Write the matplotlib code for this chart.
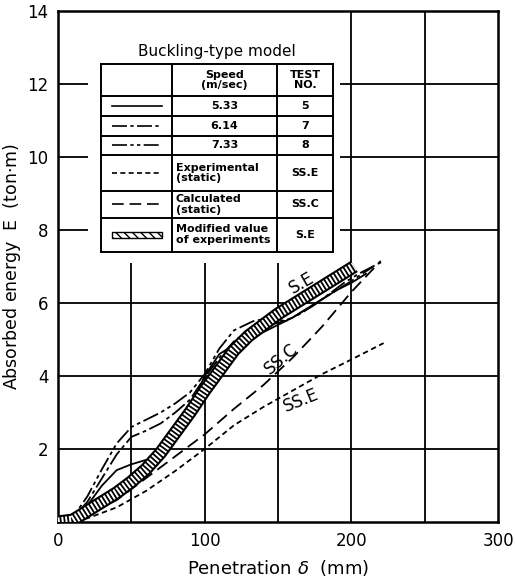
import matplotlib
matplotlib.use('Agg')
import matplotlib.pyplot as plt
from matplotlib.patches import Rectangle
import numpy as np

# penetration (mm) and absorbed energy (ton.m) per test
pen_t5 = [0, 10, 20, 30, 40, 50, 60, 70, 80, 90, 100, 110, 120, 130, 140, 150, 160, 170, 180, 190, 200, 210]
e_t5 = [0, 0.08, 0.45, 1.0, 1.42, 1.58, 1.7, 1.8, 2.3, 3.1, 4.0, 4.6, 4.85, 5.0, 5.2, 5.4, 5.6, 5.85, 6.1, 6.35, 6.55, 6.8]
pen_t7 = [0, 10, 20, 30, 40, 50, 60, 70, 80, 90, 100, 110, 120, 130, 140, 150, 160, 170, 180, 190, 200, 215]
e_t7 = [0, 0.1, 0.55, 1.2, 1.85, 2.33, 2.5, 2.7, 3.0, 3.35, 3.95, 4.5, 4.95, 5.25, 5.4, 5.45, 5.6, 5.85, 6.1, 6.35, 6.6, 7.0]
pen_t8 = [0, 10, 20, 30, 40, 50, 60, 70, 80, 90, 100, 110, 120, 133, 145, 155, 165, 175, 185, 195, 205, 222]
e_t8 = [0, 0.12, 0.7, 1.45, 2.15, 2.6, 2.8, 3.0, 3.25, 3.55, 4.05, 4.75, 5.25, 5.5, 5.6, 5.5, 5.7, 5.95, 6.25, 6.55, 6.8, 7.15]
pen_sse = [0, 20, 40, 60, 80, 100, 120, 140, 160, 180, 200, 222]
e_sse = [0, 0.1, 0.4, 0.85, 1.4, 2.0, 2.65, 3.15, 3.6, 4.05, 4.45, 4.9]
pen_ssc = [0, 20, 40, 60, 80, 100, 120, 140, 160, 180, 200, 220]
e_ssc = [0, 0.2, 0.6, 1.2, 1.8, 2.4, 3.1, 3.75, 4.5, 5.35, 6.3, 7.15]
pen_se = [0, 10, 20, 30, 40, 50, 60, 70, 80, 90, 100, 110, 120, 130, 140, 150, 160, 170, 180, 190, 202]
e_se = [0, 0.05, 0.3, 0.55, 0.8, 1.1, 1.45, 1.9, 2.45, 3.0, 3.6, 4.15, 4.7, 5.1, 5.4, 5.7, 5.95, 6.2, 6.45, 6.7, 7.0]

speeds = ['5.33', '6.14', '7.33']
test_no = ['5', '7', '8', 'SS.E', 'SS.C', 'S.E']

dash_t7 = (0, (9, 2, 2, 2))
dash_t8 = (0, (9, 2, 2, 2, 2, 2))
dash_sse = (0, (3, 2))
dash_ssc = (0, (7, 3.5))

fig = plt.figure(figsize=(5.15, 5.78), dpi=100)
ax = fig.add_axes([0.1126, 0.0969, 0.8544, 0.8842])
ax.set_xlim(0, 300)
ax.set_ylim(0, 14)

# grid
for gx in [50, 100, 150, 200, 250]:
    ax.axvline(gx, color='black', lw=1.3, zorder=1)
for gy in [2, 4, 6, 8, 10, 12]:
    ax.axhline(gy, color='black', lw=1.3, zorder=1)

# curves
ax.plot(pen_t5, e_t5, color='black', lw=1.3, zorder=3)
ax.plot(pen_t7, e_t7, color='black', lw=1.3, ls=dash_t7, zorder=3)
ax.plot(pen_t8, e_t8, color='black', lw=1.3, ls=dash_t8, zorder=3)
ax.plot(pen_sse, e_sse, color='black', lw=1.3, ls=dash_sse, zorder=3)
ax.plot(pen_ssc, e_ssc, color='black', lw=1.3, ls=dash_ssc, zorder=3)
# hatched band
ax.plot(pen_se, e_se, color='black', lw=9.5, solid_capstyle='butt', zorder=4)
ax.plot(pen_se, e_se, color='white', lw=6.5, ls=(0, (0.22, 0.2)), dash_capstyle='butt', zorder=5)

ax.text(166, 6.55, 'S.E', fontsize=12, rotation=30, ha='center', va='center', zorder=6)
ax.text(152, 4.47, 'SS.C', fontsize=12, rotation=40, ha='center', va='center', zorder=6)
ax.text(166, 3.34, 'SS.E', fontsize=12, rotation=22, ha='center', va='center', zorder=6)

# legend table
ax.add_patch(Rectangle((20.5, 7.1), 172, 6.9, facecolor='white', edgecolor='none', zorder=2))
tx0, tx1, tx2, tx3 = 29.3, 77.7, 149.3, 187.5
rows = [12.55, 11.67, 11.12, 10.58, 10.05, 9.07, 8.33, 7.40]
for ry in rows:
    ax.plot([tx0, tx3], [ry, ry], color='black', lw=1.4, zorder=7)
for cx in [tx0, tx1, tx2, tx3]:
    ax.plot([cx, cx], [rows[0], rows[-1]], color='black', lw=1.4, zorder=7)

ax.text((tx0 + tx3) / 2, 12.9, 'Buckling-type model', fontsize=11, ha='center', va='center', zorder=7)
tkw = dict(fontsize=8, fontweight='bold', va='center', zorder=7)
ax.text((tx1 + tx2) / 2, (rows[0] + rows[1]) / 2, 'Speed\n(m/sec)', ha='center', linespacing=1.1, **tkw)
ax.text((tx2 + tx3) / 2, (rows[0] + rows[1]) / 2, 'TEST\nNO.', ha='center', linespacing=1.1, **tkw)
for i, sp in enumerate(speeds):
    ax.text((tx1 + tx2) / 2, (rows[i + 1] + rows[i + 2]) / 2, sp, ha='center', **tkw)
ax.text(tx1 + 2.5, (rows[4] + rows[5]) / 2, 'Experimental\n(static)', ha='left', linespacing=1.1, **tkw)
ax.text(tx1 + 2.5, (rows[5] + rows[6]) / 2, 'Calculated\n(static)', ha='left', linespacing=1.1, **tkw)
ax.text(tx1 + 2.5, (rows[6] + rows[7]) / 2, 'Modified value\nof experiments', ha='left', linespacing=1.1, **tkw)
for i, tn in enumerate(test_no):
    ax.text((tx2 + tx3) / 2, (rows[i + 1] + rows[i + 2]) / 2, tn, ha='center', **tkw)

styles = ['-', dash_t7, dash_t8, dash_sse, dash_ssc]
for i, st in enumerate(styles):
    yy = (rows[i + 1] + rows[i + 2]) / 2
    ax.plot([37, 71], [yy, yy], color='black', lw=1.2, ls=st, zorder=7)
yy = (rows[6] + rows[7]) / 2
ax.add_patch(Rectangle((37, yy - 0.08), 34, 0.16, facecolor='white', edgecolor='black',
                       hatch='\\\\\\\\', lw=1.0, zorder=7))

ax.set_xticks([0, 100, 200, 300])
ax.set_yticks([2, 4, 6, 8, 10, 12, 14])
ax.tick_params(length=0, labelsize=12, pad=7)
for sp in ax.spines.values():
    sp.set_linewidth(1.8)

ax.set_xlabel('Penetration $\\delta$  (mm)', fontsize=13, labelpad=6)
ax.set_ylabel('Absorbed energy  E  (ton$\\cdot$m)', fontsize=12.5, labelpad=3)

fig.savefig('out.png', dpi=100)
